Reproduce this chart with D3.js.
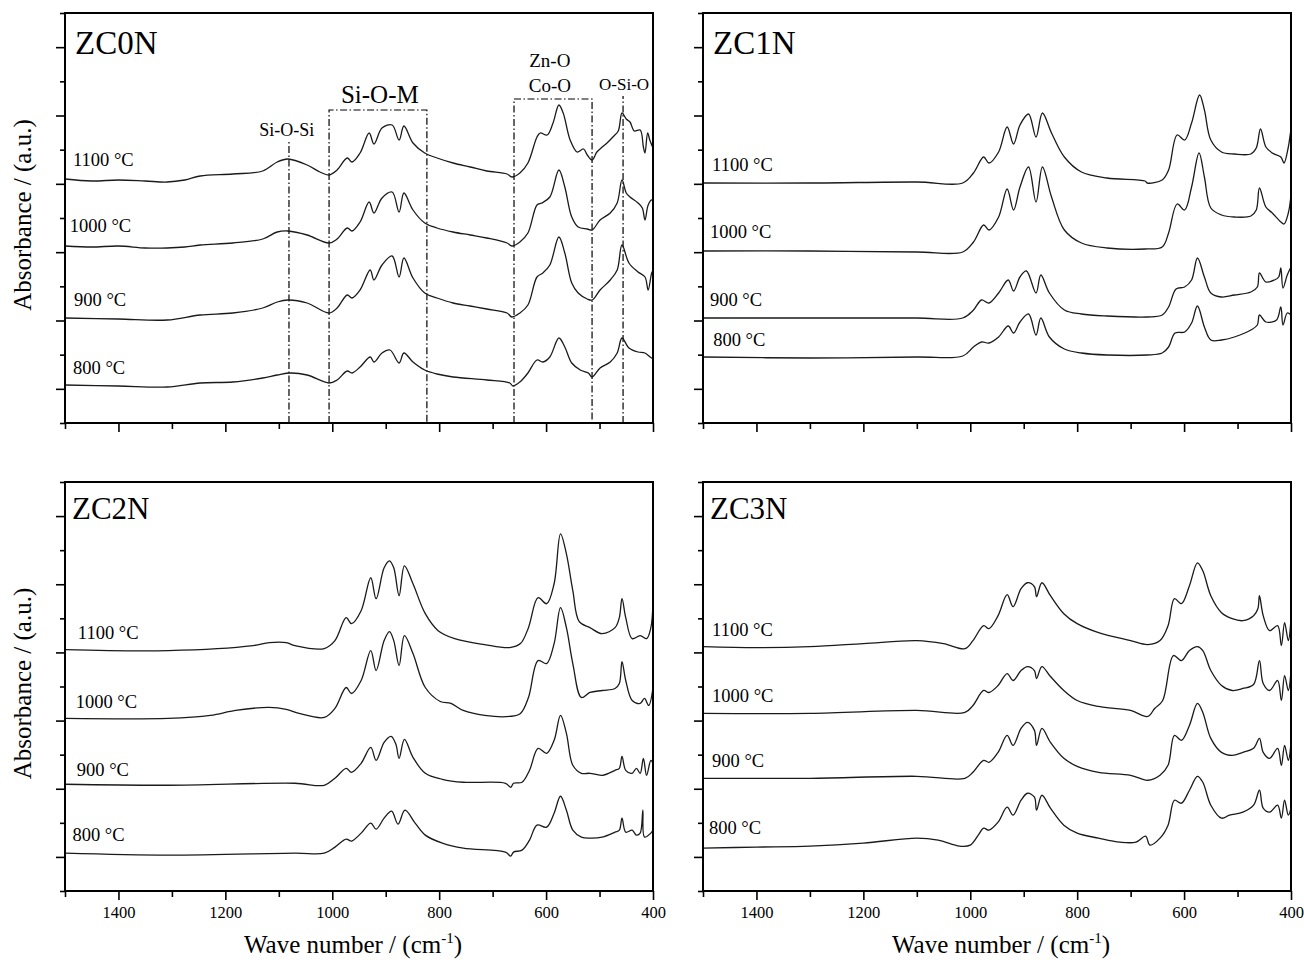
<!DOCTYPE html>
<html>
<head>
<meta charset="utf-8">
<title>FTIR spectra ZC0N - ZC3N</title>
<script src="https://cdn.jsdelivr.net/npm/d3@7"></script>
<style>
body { margin: 0; background: #fff; }
svg { font-family: "Liberation Serif", "Times New Roman", serif; }
.frame { fill: none; stroke: #000; stroke-width: 2; }
.spec { fill: none; stroke: #1a1a1a; stroke-width: 1.3; stroke-linejoin: round; }
.guide { fill: none; stroke: #000; stroke-width: 1.2; stroke-dasharray: 7 2.5 1.5 2.5; }
.axis path { display: none; }
.axis line { stroke: #000; stroke-width: 1.6; }
.axis text { font-family: "Liberation Serif", serif; font-size: 16.5px; fill: #000; }
.temp { font-size: 18.5px; }
.title { font-size: 25px; }
</style>
</head>
<body>
<script>
// wave number axis (cm-1), absorbance in arbitrary units
var wnMajor = [1400, 1200, 1000, 800, 600, 400];
var wnMinor = [1500, 1300, 1100, 900, 700, 500];
var temps = ["800 °C", "900 °C", "1000 °C", "1100 °C"];

// ---- ZC0N ----
var zc0n_800 = [[1500,3.8],[1400,3.7],[1309,3.6],[1247,4.0],[1186,4.1],[1130,4.5],[1103,4.8],[1078,5.0],[1047,4.8],[1006,4.0],[991,4.3],[972,5.2],[963,5.0],[948,5.6],[929,6.6],[922,6.1],[907,7.0],[892,7.3],[875,6.0],[866,7.0],[849,6.1],[827,5.3],[804,4.9],[774,4.6],[711,4.3],[668,4.0],[662,3.7],[649,4.1],[634,5.0],[617,6.3],[606,6.1],[593,6.6],[576,8.5],[565,7.6],[552,6.0],[536,5.3],[521,5.0],[514,4.6],[499,5.5],[480,6.1],[467,7.0],[458,8.5],[445,7.5],[428,7.1],[415,7.0],[402,6.5],[400,7.0]];
var zc0n_900 = [[1500,10.5],[1400,10.4],[1309,10.3],[1247,10.8],[1186,11.0],[1130,11.5],[1103,12.1],[1083,12.3],[1047,12.0],[1006,11.0],[991,11.5],[972,12.8],[963,12.5],[948,13.3],[929,15.3],[922,14.3],[907,15.8],[888,16.7],[875,14.6],[866,16.5],[849,14.5],[827,13.0],[804,12.5],[774,12.0],[742,11.7],[711,11.4],[673,11.0],[664,10.6],[649,11.0],[634,11.8],[617,14.6],[606,15.0],[593,15.8],[576,18.6],[565,17.0],[552,14.0],[540,13.0],[523,12.4],[514,12.3],[499,13.3],[480,14.3],[467,15.3],[458,17.8],[445,16.0],[428,15.1],[415,14.6],[409,13.3],[402,15.1],[400,14.5]];
var zc0n_1000 = [[1500,17.7],[1450,17.6],[1400,17.7],[1350,17.5],[1309,17.5],[1276,17.6],[1247,17.8],[1186,18.0],[1130,18.4],[1103,19.1],[1083,19.2],[1047,18.8],[1006,18.0],[991,18.4],[972,19.5],[963,19.2],[948,20.1],[931,22.1],[922,21.0],[907,22.5],[888,23.1],[875,21.1],[866,23.0],[849,21.3],[827,20.0],[804,19.5],[774,19.1],[742,18.8],[711,18.5],[673,18.0],[664,17.7],[649,18.1],[634,19.0],[617,21.8],[608,22.0],[593,22.6],[576,25.3],[565,23.6],[552,20.6],[540,19.6],[523,19.4],[514,19.3],[499,20.3],[480,21.0],[467,22.0],[458,24.3],[450,23.0],[443,22.6],[428,22.0],[420,21.5],[415,20.3],[409,21.8],[402,22.3],[400,21.5]];
var zc0n_1100 = [[1500,24.4],[1450,24.2],[1400,24.3],[1350,24.2],[1309,24.1],[1276,24.3],[1247,24.7],[1186,24.9],[1130,25.2],[1103,26.1],[1083,26.4],[1047,25.8],[1023,25.1],[1006,24.8],[991,25.3],[972,26.5],[963,26.1],[948,27.0],[931,29.0],[922,27.9],[907,29.5],[888,29.8],[875,28.3],[866,29.7],[849,28.0],[827,27.0],[804,26.5],[774,26.0],[742,25.6],[711,25.2],[673,24.9],[664,24.6],[649,25.0],[634,26.0],[617,28.6],[611,29.0],[598,28.8],[587,30.0],[576,31.8],[568,31.0],[555,28.3],[542,27.1],[530,27.4],[523,26.8],[514,26.3],[505,27.1],[495,27.6],[486,28.0],[475,28.6],[465,29.2],[458,31.0],[450,30.4],[443,30.1],[435,29.2],[424,29.3],[418,27.6],[415,27.0],[410,29.0],[406,28.3],[400,27.5]];
var zc0n_labelAt = [[1485,4.9],[1483,11.7],[1491,19.1],[1485,25.7]];

// ---- ZC1N ----
var zc1n_800 = [[1500,6.6],[1300,6.5],[1100,6.6],[1014,6.7],[994,7.6],[979,8.1],[965,8.0],[947,8.6],[929,9.7],[919,9.0],[907,10.1],[891,10.9],[877,8.8],[868,10.5],[852,8.6],[824,7.4],[792,7.0],[744,6.8],[669,6.8],[641,7.0],[629,7.6],[617,9.0],[599,9.1],[586,10.0],[575,11.7],[562,9.6],[550,8.3],[530,8.3],[506,8.6],[475,9.3],[463,9.8],[459,10.8],[447,10.1],[427,10.3],[419,11.6],[415,9.8],[407,11.0],[400,10.8]];
var zc1n_900 = [[1500,10.5],[1300,10.5],[1100,10.5],[1014,10.5],[994,11.3],[979,12.3],[965,12.0],[947,13.0],[929,14.3],[919,13.2],[907,14.6],[895,15.2],[877,13.0],[868,14.8],[852,13.0],[824,11.3],[792,10.9],[744,10.7],[669,10.6],[641,10.8],[629,11.6],[615,13.4],[599,13.6],[586,14.3],[575,16.5],[562,14.6],[550,13.0],[530,12.6],[506,12.8],[475,13.1],[463,13.6],[459,15.0],[447,14.1],[431,14.3],[423,14.6],[419,15.5],[415,13.5],[407,14.8],[400,15.6]];
var zc1n_1000 = [[1500,17.2],[1300,17.2],[1100,17.1],[1014,17.1],[994,18.1],[975,19.8],[965,19.3],[947,20.6],[931,23.4],[919,21.3],[907,23.6],[891,25.6],[877,22.1],[865,25.6],[848,22.6],[824,19.3],[792,18.0],[744,17.5],[673,17.4],[641,17.6],[629,19.0],[613,21.9],[599,21.3],[586,23.6],[572,27.0],[562,24.6],[550,21.5],[530,20.8],[506,20.6],[475,20.7],[465,21.3],[459,23.5],[447,21.6],[435,21.0],[419,20.1],[413,19.9],[405,21.0],[400,22.8]];
var zc1n_1100 = [[1500,24.0],[1300,24.0],[1100,24.1],[1014,24.0],[994,25.0],[975,26.6],[965,26.0],[947,27.1],[931,29.6],[919,27.9],[907,29.8],[891,30.9],[877,28.6],[865,31.0],[848,29.0],[824,26.6],[792,25.1],[744,24.5],[673,24.2],[669,24.0],[641,24.3],[629,25.3],[613,28.8],[599,28.3],[586,30.0],[571,32.8],[562,31.3],[550,28.3],[530,27.1],[506,26.9],[475,26.9],[465,27.5],[457,29.4],[447,27.6],[435,27.0],[419,26.6],[413,26.0],[405,27.6],[401,29.0],[400,29.3]];
var zc1n_labelAt = [[1481,7.7],[1487,11.7],[1487,18.5],[1483,25.2]];

// ---- ZC2N ----
var zc2n_800 = [[1500,3.8],[1307,3.6],[1070,3.8],[1015,3.8],[995,4.4],[974,5.2],[964,5.0],[946,5.8],[928,6.8],[918,6.2],[903,7.3],[889,8.0],[877,6.7],[864,8.1],[845,6.8],[826,5.6],[794,4.8],[755,4.3],[676,3.9],[666,3.5],[661,3.9],[645,4.1],[631,5.1],[617,6.6],[599,6.4],[585,7.8],[573,9.5],[562,8.1],[550,6.1],[534,5.4],[518,5.3],[495,5.4],[471,5.9],[463,6.1],[458,7.3],[451,5.9],[439,6.1],[431,5.6],[424,5.8],[419,8.1],[416,5.4],[404,5.8],[400,6.1]];
var zc2n_900 = [[1500,10.7],[1307,10.6],[1070,10.8],[1015,10.6],[995,11.3],[974,12.3],[964,11.9],[946,12.8],[928,14.4],[918,13.1],[903,14.9],[890,15.5],[881,14.7],[875,13.3],[865,15.2],[849,13.4],[826,11.8],[794,11.2],[755,10.9],[676,10.8],[666,10.4],[661,10.8],[645,10.9],[631,12.1],[615,14.3],[599,13.8],[585,15.1],[573,17.6],[562,15.8],[550,12.6],[534,11.8],[518,11.8],[495,11.6],[471,12.1],[463,12.3],[458,13.5],[451,12.1],[439,11.8],[431,12.3],[424,11.8],[418,13.3],[412,11.6],[404,13.1],[400,12.8]];
var zc2n_1000 = [[1500,17.3],[1307,17.3],[1228,17.6],[1181,18.1],[1118,18.4],[1086,18.2],[1062,17.8],[1015,17.4],[995,18.3],[974,20.4],[964,19.8],[946,21.1],[928,24.1],[918,22.1],[903,25.1],[893,26.0],[885,25.1],[875,22.6],[865,25.6],[849,23.8],[826,20.4],[798,19.0],[778,18.8],[755,18.1],[715,17.6],[668,17.5],[648,17.8],[633,19.4],[615,23.1],[599,22.8],[585,24.8],[573,28.4],[562,26.4],[550,22.8],[534,19.4],[518,19.9],[495,20.1],[471,20.3],[463,20.8],[458,23.0],[451,21.1],[439,19.1],[424,18.8],[416,19.3],[408,18.6],[400,20.4]];
var zc2n_1100 = [[1500,24.2],[1307,24.1],[1148,24.6],[1118,24.9],[1086,24.9],[1070,24.6],[1015,24.3],[995,25.1],[974,27.4],[964,26.8],[946,28.1],[928,31.4],[918,29.3],[903,32.4],[893,33.1],[885,32.4],[875,29.6],[865,32.6],[849,30.8],[826,27.8],[802,26.1],[771,25.3],[715,24.7],[668,24.4],[648,24.8],[633,26.4],[615,29.4],[599,28.8],[585,30.8],[573,35.8],[562,33.8],[550,30.1],[538,27.0],[518,26.4],[495,25.8],[471,26.4],[463,27.4],[458,29.3],[451,27.4],[439,25.3],[424,25.6],[412,25.3],[404,26.4],[400,28.9]];
var zc2n_labelAt = [[1486,5.0],[1478,11.5],[1480,18.3],[1476,25.3]];

// ---- ZC3N ----
var zc3n_800 = [[1500,4.3],[1400,4.4],[1300,4.5],[1200,4.8],[1100,5.3],[1060,5.1],[1020,4.5],[1000,4.6],[985,5.6],[975,6.3],[965,6.1],[948,6.9],[931,8.4],[920,7.6],[905,9.1],[893,9.8],[880,9.4],[876,8.1],[866,9.6],[850,8.3],[825,6.6],[800,5.8],[760,5.3],[720,4.9],[690,4.9],[672,5.5],[664,4.6],[645,5.3],[630,6.6],[618,9.1],[605,8.8],[590,10.1],[575,11.5],[565,10.9],[550,8.6],[530,7.3],[515,7.6],[490,7.9],[470,8.6],[459,10.1],[452,8.3],[440,7.9],[425,8.6],[418,7.3],[412,9.1],[405,7.6],[400,8.3]];
var zc3n_900 = [[1500,11.3],[1300,11.3],[1100,11.5],[1010,11.3],[995,11.9],[975,13.1],[965,12.9],[948,13.9],[931,15.6],[920,14.6],[905,16.3],[893,16.9],[880,16.1],[876,14.6],[866,16.3],[850,14.9],[825,13.3],[800,12.5],[760,11.9],[700,11.6],[668,11.1],[645,11.6],[630,12.6],[618,15.6],[605,15.1],[590,16.6],[575,18.8],[565,17.9],[550,15.3],[530,13.9],[510,13.6],[490,13.9],[470,14.3],[459,15.3],[452,13.9],[440,13.3],[425,14.3],[418,12.6],[412,14.6],[405,13.1],[400,14.9]];
var zc3n_1000 = [[1500,17.8],[1300,17.8],[1100,18.1],[1010,17.9],[995,18.6],[975,20.1],[965,19.9],[948,20.6],[931,21.8],[920,21.1],[905,22.1],[893,22.5],[880,22.1],[876,21.3],[866,22.5],[850,21.5],[825,20.1],[800,19.1],[760,18.5],[700,18.1],[668,17.5],[655,18.3],[640,19.1],[620,23.6],[605,23.1],[590,24.1],[575,24.5],[565,24.1],[550,22.1],[530,20.6],[510,20.1],[490,20.3],[470,20.7],[459,23.1],[452,20.8],[440,20.1],[425,21.1],[418,19.1],[412,21.6],[405,20.1],[400,22.1]];
var zc3n_1100 = [[1500,24.5],[1400,24.4],[1300,24.5],[1200,24.8],[1100,25.1],[1050,24.8],[1010,24.3],[995,25.1],[975,26.6],[965,26.3],[948,27.6],[931,29.7],[920,28.5],[905,30.3],[893,30.9],[880,30.5],[876,29.5],[866,30.9],[850,29.6],[825,27.8],[800,26.8],[760,25.9],[700,25.1],[668,24.7],[645,25.1],[630,26.6],[618,29.3],[605,28.8],[590,30.6],[575,32.9],[565,32.1],[550,29.6],[530,27.9],[510,27.3],[490,27.1],[470,27.6],[462,28.3],[459,29.6],[452,27.6],[440,26.1],[425,26.6],[418,24.6],[412,26.9],[405,25.1],[400,27.3]];
var zc3n_labelAt = [[1489,5.7],[1483,12.4],[1483,18.9],[1483,25.6]];

// band assignments drawn on ZC0N: vertical guides [wn, top], boxes [wnLeft, wnRight, top]
var bandLines = [[1081, 28.3], [456, 32.7]];
var bandBoxes = [[1006, 823, 31.3], [660, 514, 32.4]];
var bandText = [
  {t: "Si-O-Si", wn: 1085, a: 28.7, size: 18},
  {t: "Si-O-M", wn: 911, a: 32.0, size: 25},
  {t: "Zn-O", wn: 593, a: 35.6, size: 19},
  {t: "Co-O", wn: 593, a: 33.1, size: 19},
  {t: "O-Si-O", wn: 454, a: 33.3, size: 17}
];

var W = 1304, H = 960, PW = 588;
var yMax = 41;
var yTicks = d3.range(13).map(function(i) { return i * yMax / 12; });
var yMajor = yTicks.filter(function(d, i) { return i % 2 == 1; });
var yMinor = yTicks.filter(function(d, i) { return i % 2 == 0; });

var panels = [
  {name: "ZC0N", left: 65, top: 13, h: 410, titleY: 40.5, titleSize: 33, series: [zc0n_800, zc0n_900, zc0n_1000, zc0n_1100], labelAt: zc0n_labelAt, bottomRow: false, bands: true},
  {name: "ZC1N", left: 703, top: 13, h: 410, titleY: 40.5, titleSize: 33, series: [zc1n_800, zc1n_900, zc1n_1000, zc1n_1100], labelAt: zc1n_labelAt, bottomRow: false},
  {name: "ZC2N", left: 65, top: 482, h: 409, titleY: 36.5, titleSize: 31, series: [zc2n_800, zc2n_900, zc2n_1000, zc2n_1100], labelAt: zc2n_labelAt, bottomRow: true},
  {name: "ZC3N", left: 703, top: 482, h: 409, titleY: 36.5, titleSize: 31, series: [zc3n_800, zc3n_900, zc3n_1000, zc3n_1100], labelAt: zc3n_labelAt, bottomRow: true}
];

var svg = d3.select("body").append("svg")
    .attr("width", W)
    .attr("height", H);

panels.forEach(function(p) {
    var g = svg.append("g").attr("transform", "translate(" + p.left + "," + p.top + ")");
    var x = d3.scaleLinear().domain([1500, 400]).range([0, PW]);
    var y = d3.scaleLinear().domain([0, yMax]).range([p.h, 0]);

    // ticks
    g.append("g").attr("class", "axis").attr("transform", "translate(0," + p.h + ")")
        .call(d3.axisBottom(x).tickValues(wnMinor).tickSize(6).tickFormat(""));
    g.append("g").attr("class", "axis").attr("transform", "translate(0," + p.h + ")")
        .call(d3.axisBottom(x).tickValues(wnMajor).tickSize(9).tickPadding(6)
            .tickFormat(p.bottomRow ? d3.format("d") : ""));
    g.append("g").attr("class", "axis")
        .call(d3.axisLeft(y).tickValues(yMajor).tickSize(9).tickFormat(""));
    g.append("g").attr("class", "axis")
        .call(d3.axisLeft(y).tickValues(yMinor).tickSize(5).tickFormat(""));

    // band guides
    if (p.bands) {
        bandLines.forEach(function(b) {
            g.append("path").attr("class", "guide")
                .attr("d", "M" + x(b[0]) + "," + y(0) + "V" + y(b[1]));
        });
        bandBoxes.forEach(function(b) {
            g.append("path").attr("class", "guide")
                .attr("d", "M" + x(b[0]) + "," + y(0) + "V" + y(b[2]) + "H" + x(b[1]) + "V" + y(0));
        });
        g.selectAll("text.band").data(bandText).enter().append("text")
            .attr("class", "band")
            .attr("x", function(d) { return x(d.wn); })
            .attr("y", function(d) { return y(d.a); })
            .attr("text-anchor", "middle")
            .style("font-size", function(d) { return d.size + "px"; })
            .text(function(d) { return d.t; });
    }

    // spectra
    var line = d3.line()
        .x(function(d) { return x(d[0]); })
        .y(function(d) { return y(d[1]); })
        .curve(d3.curveCatmullRom.alpha(0.5));
    g.selectAll("path.spec").data(p.series).enter().append("path")
        .attr("class", "spec")
        .attr("d", line);

    // temperature labels
    g.selectAll("text.temp").data(p.labelAt).enter().append("text")
        .attr("class", "temp")
        .attr("x", function(d) { return x(d[0]); })
        .attr("y", function(d) { return y(d[1]); })
        .text(function(d, i) { return temps[i]; });

    // frame + sample name
    g.append("rect").attr("class", "frame").attr("width", PW).attr("height", p.h);
    g.append("text")
        .attr("x", p.bottomRow ? 7 : 10)
        .attr("y", p.titleY)
        .style("font-size", p.titleSize + "px")
        .text(p.name);

    // axis titles
    if (p.left < 300) {
        svg.append("text").attr("class", "title")
            .attr("transform", "translate(31," + (p.top + p.h / 2 - 3) + ") rotate(-90)")
            .attr("text-anchor", "middle")
            .text("Absorbance / (a.u.)");
    }
    if (p.bottomRow) {
        var t = svg.append("text").attr("class", "title")
            .attr("x", p.left + (p.left < 300 ? 288 : 298))
            .attr("y", 953)
            .attr("text-anchor", "middle");
        t.append("tspan").text("Wave number / (cm");
        t.append("tspan").attr("dy", -10).style("font-size", "15px").text("-1");
        t.append("tspan").attr("dy", 10).text(")");
    }
});
</script>
</body>
</html>
